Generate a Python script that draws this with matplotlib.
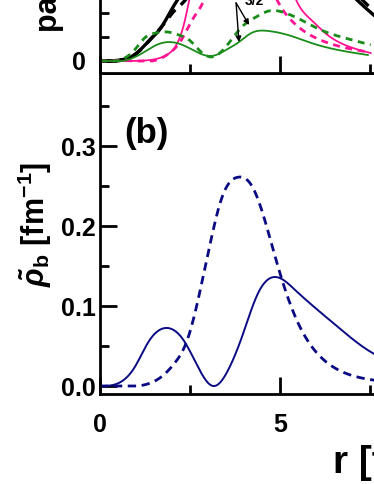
import numpy as np
import matplotlib
matplotlib.use("Agg")
import matplotlib.pyplot as plt
from matplotlib.ticker import MultipleLocator, FormatStrFormatter

plt.rcParams['font.family'] = ['Liberation Sans', 'DejaVu Sans']
plt.rcParams['font.weight'] = 'bold'
plt.rcParams['mathtext.fontset'] = 'custom'
plt.rcParams['mathtext.rm'] = 'Liberation Sans:bold'
plt.rcParams['mathtext.it'] = 'Liberation Sans:italic:bold'
plt.rcParams['mathtext.bf'] = 'Liberation Sans:bold'

# ---- panel (a): pairing densities (arbitrary units, top cut off) ----
blk_x = [0.0, 0.55, 1.02, 1.38, 1.71, 1.98, 2.15, 2.6, 3.5, 5.0, 6.5, 7.1, 7.6]
blk_y = [0.0, 0.04, 0.33, 0.875, 1.42, 2.125, 2.54, 3.6, 5.5, 6.0, 3.6, 2.6, 1.92]
blkd_x = [0.0, 0.55, 1.0, 1.4, 1.75, 2.07, 2.4, 3.0, 4.5, 6.5, 7.25, 7.6]
blkd_y = [0.0, 0.02, 0.30, 0.90, 1.50, 2.10, 2.6, 4.5, 6.5, 4.0, 2.6, 2.1]

mag_x = [0.0, 0.8, 1.38, 1.85, 2.15, 2.34, 2.48, 3.0, 4.0, 5.0, 5.45, 5.87, 6.25, 6.80, 7.52]
mag_y = [0.0, 0.0, 0.04, 0.25, 0.75, 1.58, 2.54, 5.0, 6.0, 4.5, 2.54, 1.71, 1.17, 0.67, 0.33]
magd_x = [0.0, 1.0, 1.57, 1.93, 2.26, 2.56, 2.89, 3.4, 3.8, 4.3, 4.9, 5.23, 5.70, 6.34, 7.44]
magd_y = [0.0, 0.0, 0.04, 0.33, 0.875, 1.71, 2.54, 5.0, 6.0, 5.0, 2.60, 1.83, 1.21, 0.75, 0.375]

grn_x = [0.0, 0.63, 1.18, 1.57, 1.93, 2.29, 2.75, 3.11, 3.50, 3.86, 4.21, 4.68, 5.23, 5.87, 6.61, 7.44]
grn_y = [0.0, 0.0, 0.33, 0.67, 0.79, 0.67, 0.33, 0.21, 0.46, 0.79, 1.17, 1.25, 1.08, 0.75, 0.46, 0.25]
grnd_x = [0.0, 0.55, 0.96, 1.24, 1.57, 1.87, 2.20, 2.48, 2.75, 3.11, 3.58, 3.94, 4.33, 4.68, 5.15, 5.59, 6.14, 6.80, 7.52]
grnd_y = [0.0, 0.04, 0.46, 0.96, 1.17, 1.21, 1.08, 0.875, 0.46, 0.17, 0.75, 1.42, 1.83, 2.08, 2.0, 1.71, 1.29, 0.96, 0.67]

# ---- panel (b): rho_b ----
rb_x = [0.0, 0.42, 0.97, 1.33, 1.88, 2.31, 2.72, 3.14, 3.56, 3.94, 4.39, 4.92, 5.42, 6.47, 7.58, 9.0]
rb_y = [0.0, 0.002, 0.024, 0.054, 0.0725, 0.058, 0.024, 0.0, 0.02, 0.061, 0.116, 0.136, 0.12, 0.079, 0.041, 0.02]
rbd_x = [0.0, 1.06, 1.72, 2.08, 2.42, 2.72, 3.06, 3.39, 3.83, 4.22, 4.58, 4.92, 5.42, 6.03, 6.47, 6.94, 7.58, 9.0]
rbd_y = [0.0, 0.0, 0.012, 0.029, 0.057, 0.107, 0.178, 0.236, 0.261, 0.25, 0.207, 0.153, 0.087, 0.041, 0.024, 0.014, 0.0075, 0.002]


def smooth(x, y, n=500):
    # natural cubic spline through the read points
    x = np.asarray(x, float)
    y = np.asarray(y, float)
    N = len(x)
    h = np.diff(x)
    A = np.zeros((N, N))
    r = np.zeros(N)
    A[0, 0] = A[-1, -1] = 1.0
    for i in range(1, N - 1):
        A[i, i - 1] = h[i - 1]
        A[i, i] = 2 * (h[i - 1] + h[i])
        A[i, i + 1] = h[i]
        r[i] = 6 * ((y[i + 1] - y[i]) / h[i] - (y[i] - y[i - 1]) / h[i - 1])
    M = np.linalg.solve(A, r)
    xs = np.linspace(x[0], x[-1], n)
    k = np.clip(np.searchsorted(x, xs) - 1, 0, N - 2)
    a = x[k + 1] - xs
    b = xs - x[k]
    hk = h[k]
    ys = (M[k] * a**3 / (6 * hk) + M[k + 1] * b**3 / (6 * hk)
          + (y[k] / hk - M[k] * hk / 6) * a + (y[k + 1] / hk - M[k + 1] * hk / 6) * b)
    return xs, np.maximum(ys, 0.0)


W, H = 374, 484
fig = plt.figure(figsize=(W / 100, H / 100), dpi=100)

x0 = 100 / W
axw = 360 / W
ax_b = fig.add_axes([x0, (H - 394) / H, axw, 321 / H])
ax_a = fig.add_axes([x0, (H - 73) / H, axw, 240 / H])

navy = '#0a0a84'
pink = '#ff1493'
green = '#1a8c1a'

for ax in (ax_a, ax_b):
    ax.set_xlim(0, 10)
    for s in ax.spines.values():
        s.set_linewidth(2.0)
    ax.xaxis.set_major_locator(MultipleLocator(5))
    ax.xaxis.set_minor_locator(MultipleLocator(2.5))
    ax.tick_params(which='both', direction='in', width=2.0, labelsize=18)
    ax.tick_params(which='major', length=12)
    ax.tick_params(which='minor', length=6.5)

# panel (a)
ax_a.plot(*smooth(blk_x, blk_y), color='black', lw=2.4)
ax_a.plot(*smooth(blkd_x, blkd_y), color='black', lw=2.4, dashes=(3, 2.2))
ax_a.plot(*smooth(mag_x, mag_y), color=pink, lw=1.3)
ax_a.plot(*smooth(magd_x, magd_y), color=pink, lw=2.0, dashes=(2.5, 2))
ax_a.plot(*smooth(grn_x, grn_y), color=green, lw=1.3)
ax_a.plot(*smooth(grnd_x, grnd_y), color=green, lw=2.0, dashes=(2.5, 2))
ax_a.set_ylim(-0.5, 9.5)
ax_a.set_yticks([0])
ax_a.yaxis.set_minor_locator(MultipleLocator(1))
ax_a.tick_params(axis='y', pad=10)
ax_a.tick_params(axis='x', labelbottom=False)
ax_a.text(4.28, 2.33, '3/2', fontsize=10, fontweight='bold', ha='center', va='baseline')
for tx, ty in [(3.86, 0.79), (4.14, 1.5)]:
    ax_a.annotate('', xy=(tx, ty), xytext=(3.78, 2.42),
                  arrowprops=dict(arrowstyle='-|>', color='black', lw=1.0,
                                  mutation_scale=8, shrinkA=0, shrinkB=0))

# panel (b)
ax_b.plot(*smooth(rb_x, rb_y), color=navy, lw=1.4)
ax_b.plot(*smooth(rbd_x, rbd_y), color=navy, lw=2.0, dashes=(3, 2))
ax_b.set_ylim(-0.01, 0.39125)
ax_b.yaxis.set_major_locator(MultipleLocator(0.1))
ax_b.yaxis.set_minor_locator(MultipleLocator(0.05))
ax_b.yaxis.set_major_formatter(FormatStrFormatter('%.1f'))
ax_b.tick_params(axis='y', pad=3)
ax_b.tick_params(axis='x', pad=14)
ax_b.text(1.3, 0.316, '(b)', fontsize=25, fontweight='bold', ha='center', va='center')

fig.text(49 / W, 1 - 32 / H, 'pairing density', rotation=90, fontsize=22,
         fontweight='bold', ha='center', va='bottom')
fig.text(35 / W, 1 - 224 / H, r'$\tilde{\rho}_{\mathrm{b}}$ [fm$^{\mathrm{-1}}$]',
         rotation=90, fontsize=22, fontweight='bold', ha='center', va='center')
fig.text(333 / W, 11 / H, 'r [fm]', fontsize=28, fontweight='bold',
         ha='left', va='baseline')

fig.savefig('out.png', dpi=100)
